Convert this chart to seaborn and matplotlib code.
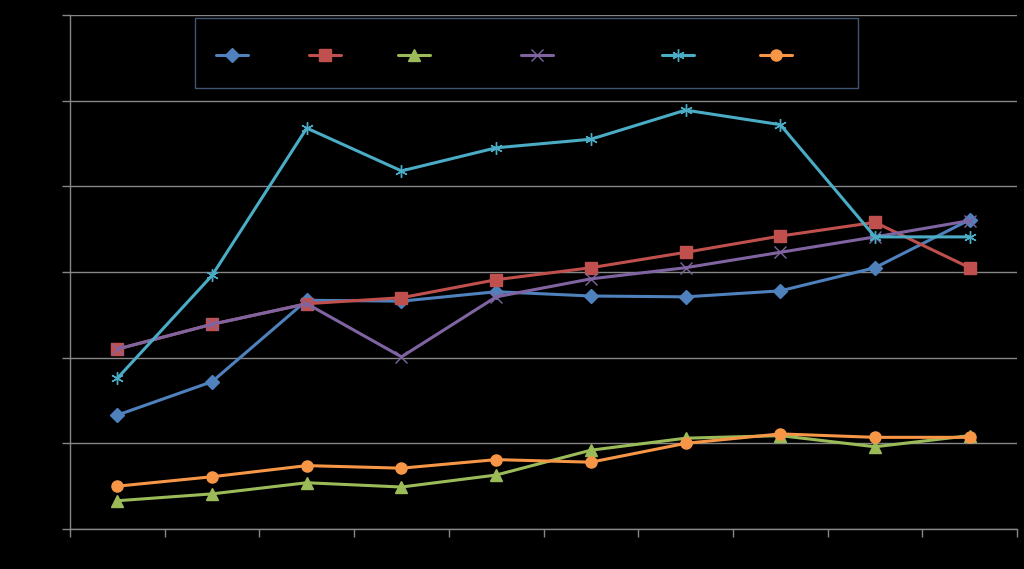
import numpy as np
import pandas as pd
import seaborn as sns
import matplotlib.pyplot as plt

# Values (10 categories, y on a 0-6 scale)
positions = list(range(10))
series_blue = [1.33, 1.72, 2.67, 2.66, 2.77, 2.72, 2.71, 2.78, 3.05, 3.61]
series_red = [2.10, 2.39, 2.63, 2.70, 2.91, 3.05, 3.23, 3.42, 3.58, 3.05]
series_green = [0.33, 0.41, 0.54, 0.49, 0.63, 0.92, 1.06, 1.09, 0.96, 1.09]
series_purple = [2.10, 2.39, 2.63, 2.01, 2.71, 2.92, 3.05, 3.23, 3.41, 3.60]
series_cyan = [1.76, 2.96, 4.68, 4.18, 4.45, 4.55, 4.89, 4.72, 3.41, 3.41]
series_orange = [0.50, 0.61, 0.74, 0.71, 0.81, 0.78, 1.00, 1.11, 1.07, 1.07]

# legend labels are black on black in the original, only their widths show
labels = [" " * 10, " " * 9, " " * 17, " " * 21, " " * 11, " " * 9]
colors = ["#4F81BD", "#C0504D", "#9BBB59", "#8064A2", "#4BACC6", "#F79646"]
markers = ["D", "s", "^", "x", (6, 2, 0), "o"]
sizes = [7.5, 8, 8, 8, 9, 8]

all_series = [series_blue, series_red, series_green, series_purple, series_cyan, series_orange]

sns.set_style("dark")
plt.rcParams['font.family'] = ['DejaVu Sans']

fig = plt.figure(figsize=(10.24, 5.69), dpi=100, facecolor="black")
ax = fig.add_axes([0.0684, 0.0703, 0.9248, 0.9033])
ax.set_facecolor("black")

for vals, lab, col, mk, ms in zip(all_series, labels, colors, markers, sizes):
    df = pd.DataFrame({"x": positions, "y": vals})
    sns.lineplot(data=df, x="x", y="y", ax=ax, color=col, marker=mk, markersize=ms,
                 linewidth=2.2, markeredgecolor=col, markeredgewidth=1.0, label=lab)

ax.set_xlim(-0.5, 9.5)
ax.set_ylim(0, 6)
ax.set_xticks(np.arange(-0.5, 10, 1))
ax.set_yticks(range(7))
ax.set_xticklabels([])
ax.set_yticklabels([])
ax.set_xlabel("")
ax.set_ylabel("")
ax.tick_params(axis="both", direction="out", length=6, width=1, color="#868686",
               bottom=True, left=True)
ax.grid(axis="y", color="#868686", linewidth=1)
ax.grid(axis="x", visible=False)
for side in ["top", "right"]:
    ax.spines[side].set_visible(False)
for side in ["left", "bottom"]:
    ax.spines[side].set_visible(True)
    ax.spines[side].set_color("#868686")
    ax.spines[side].set_linewidth(1)

leg = ax.legend(loc="upper left", bbox_to_anchor=(0.132, 0.994), ncol=6, frameon=True,
                fontsize=10, handlelength=2.3, handleheight=1.7, handletextpad=0.4,
                columnspacing=0.85, borderpad=1.5, borderaxespad=0, labelspacing=0.3,
                title=" ", title_fontsize=4,
                labelcolor="black", fancybox=False)
leg.get_frame().set_facecolor("black")
leg.get_frame().set_edgecolor("#4F6B8F")
leg.get_frame().set_linewidth(1)

fig.savefig("out.png", dpi=100, facecolor="black")
